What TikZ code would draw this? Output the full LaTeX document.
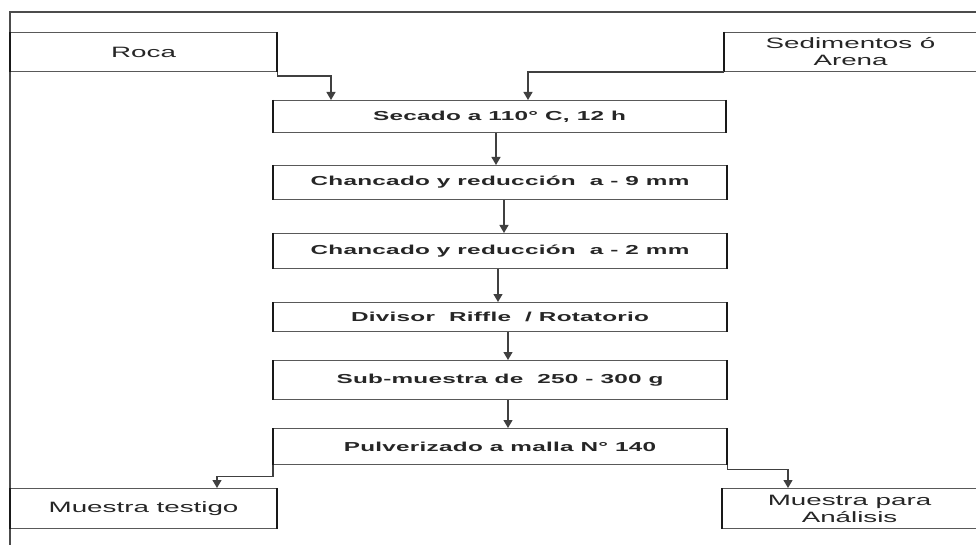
\documentclass[tikz,border=0pt]{standalone}
\usepackage{fontspec}
\usetikzlibrary{calc,arrows.meta}
\newfontfamily\wf[FakeStretch=1.85]{Liberation Sans}
\newfontfamily\wb[FakeStretch=1.87,LetterSpace=2]{Liberation Sans Bold}
\begin{document}
\begin{tikzpicture}[x=1pt,y=-1pt,
  bx/.style={rectangle, draw=black!65, line width=1.1pt, inner sep=0pt, anchor=north west,
    text=black!85, align=center, font=\wf\fontsize{15}{17}\selectfont},
  pb/.style={bx, font=\wb\fontsize{13}{15}\selectfont},
  arr/.style={draw=black!75, line width=1.2pt, -{Triangle[length=8pt,width=9pt]}},
  edge/.style={draw=black!90, line width=2pt}]
\useasboundingbox (0,0) rectangle (976,545);
\fill[white] (0,0) rectangle (976,545);
% frame
\draw[draw=black!70, line width=1.3pt] (10,545) -- (10,12) -- (976,12);
% boxes
\node[bx, minimum width=266pt, minimum height=39pt] (roca) at (10,32) {Roca};
\node[bx, minimum width=252pt, minimum height=39pt] (sed) at (724,32) {Sedimentos ó\\Arena};
\node[pb, minimum width=452pt, minimum height=32pt] (secado) at (273,100) {Secado a 110° C, 12 h};
\node[pb, minimum width=453pt, minimum height=34pt] (ch9) at (273,165) {Chancado y reducción~ a - 9 mm};
\node[pb, minimum width=453pt, minimum height=35pt] (ch2) at (273,233) {Chancado y reducción~ a - 2 mm};
\node[pb, minimum width=453pt, minimum height=29pt] (div) at (273,302) {Divisor~ Riffle~ / Rotatorio};
\node[pb, minimum width=453pt, minimum height=39pt] (sub) at (273,360) {Sub-muestra de~ 250 - 300 g};
\node[pb, minimum width=453pt, minimum height=36pt] (pulv) at (273,428) {Pulverizado a malla N° 140};
\node[bx, minimum width=266pt, minimum height=40pt] (test) at (10,488) {Muestra testigo};
\node[bx, minimum width=254pt, minimum height=40pt] (ana) at (722,488) {Muestra para\\Análisis};
% thick vertical edges
\foreach \n in {roca,secado,ch9,ch2,div,sub,pulv,test,ana,sed}{
  \draw[edge] (\n.north west) -- (\n.south west);
}
\foreach \n in {roca,secado,ch9,ch2,div,sub,pulv,test}{
  \draw[edge] (\n.north east) -- (\n.south east);
}
% connectors
\draw[arr] (roca.south east) -- ++(0,4) -| ($(secado.north west)+(58,0)$);
\draw[arr] (sed.south west) -| ($(secado.north west)+(255,0)$);
\draw[arr] ($(secado.south west)+(223,0)$) -- ($(ch9.north west)+(223,0)$);
\draw[arr] ($(ch9.south west)+(231,0)$) -- ($(ch2.north west)+(231,0)$);
\draw[arr] ($(ch2.south west)+(225,0)$) -- ($(div.north west)+(225,0)$);
\draw[arr] ($(div.south west)+(235,0)$) -- ($(sub.north west)+(235,0)$);
\draw[arr] ($(sub.south west)+(235,0)$) -- ($(pulv.north west)+(235,0)$);
\draw[arr] (pulv.south west) -- ++(0,11) -| ($(test.north west)+(207,0)$);
\draw[arr] (pulv.south east) -- ++(0,4) -| ($(ana.north west)+(66,0)$);
\end{tikzpicture}
\end{document}
